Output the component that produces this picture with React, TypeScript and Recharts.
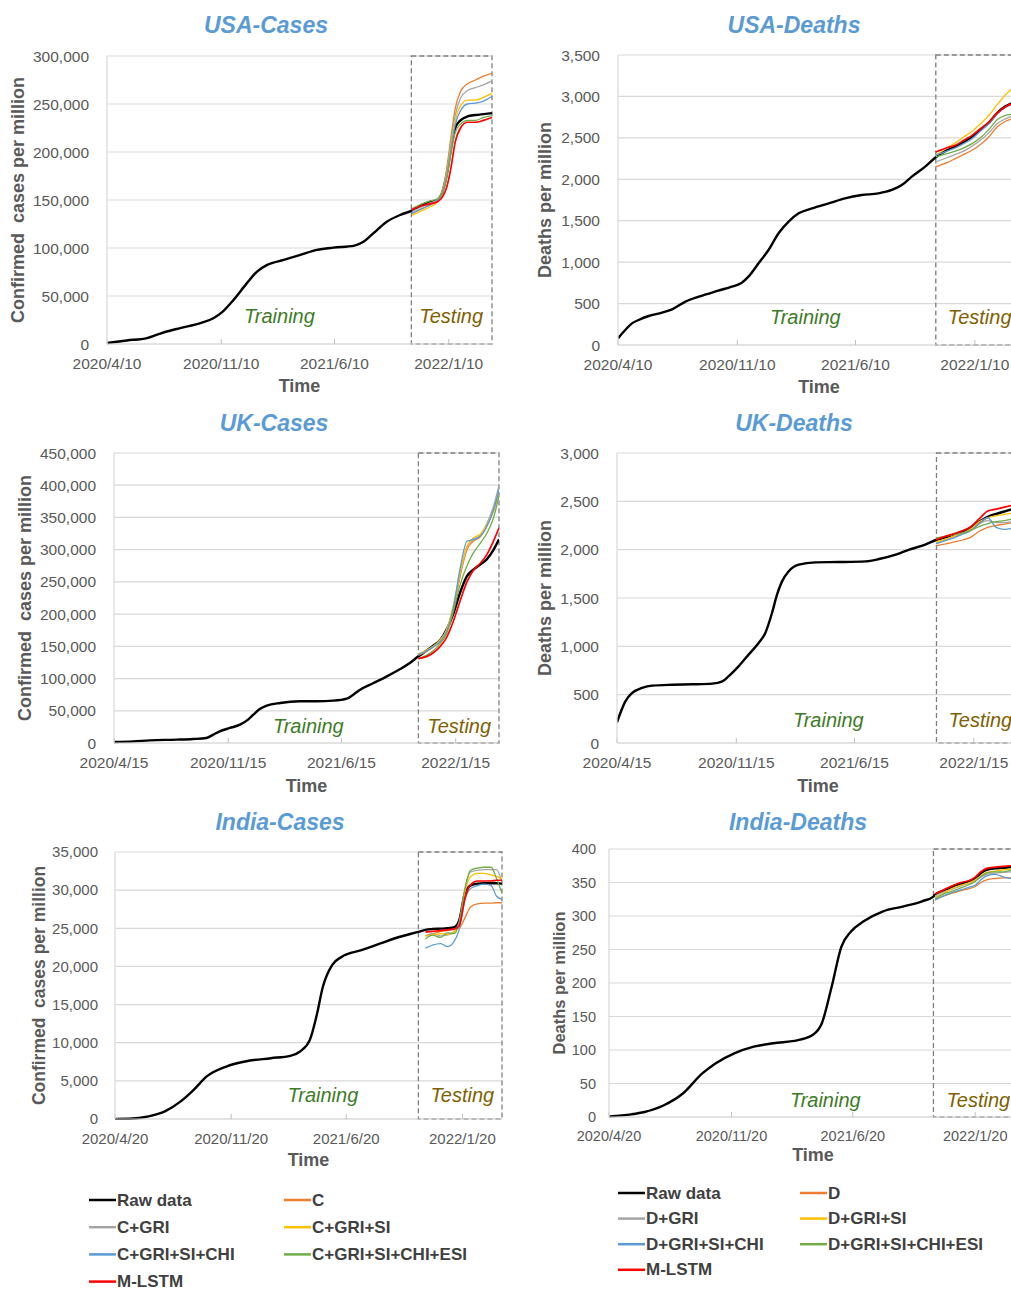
import React from "react";
import { LineChart, Line, XAxis, YAxis, CartesianGrid, ReferenceArea } from "recharts";

const FONT = '"Liberation Sans", Arial, sans-serif';
const TICK_COLOR = "#595959";
const GRID = "#d9d9d9";

// series order: Raw data, then the six models (legend order)
const COLORS = ["#000000", "#ed7d31", "#a5a5a5", "#ffc000", "#5b9bd5", "#70ad47", "#ff0000"];
const WIDTHS = [2.4, 1.3, 1.3, 1.3, 1.3, 1.3, 1.7];

const caseNames = ["Raw data", "C", "C+GRI", "C+GRI+SI", "C+GRI+SI+CHI", "C+GRI+SI+CHI+ESI", "M-LSTM"];
const deathNames = ["Raw data", "D", "D+GRI", "D+GRI+SI", "D+GRI+SI+CHI", "D+GRI+SI+CHI+ESI", "M-LSTM"];

// ---------- USA cases (days since 2020/4/10) ----------
const usaTicks = ["2020/4/10", "2020/11/10", "2021/6/10", "2022/1/10"];
const usaCasesTrainDays = [0, 37, 75, 94, 112, 137, 175, 200, 215, 237, 262, 281, 300, 331, 362, 393, 424, 462, 481, 499, 524, 549];
const usaCasesTrain = [1000, 3700, 6200, 9700, 13000, 16600, 21800, 27000, 32900, 46000, 63400, 75500, 82400, 87600, 92800, 98000, 100400, 102200, 106700, 115400, 127400, 134400];
const usaCasesTestDays = [571, 590, 605, 618, 628, 636, 644, 652, 662, 675, 690, 705, 721];
const usaCasesTestRaw = [139000, 145000, 148000, 150000, 158000, 176000, 203000, 225000, 233000, 237000, 238500, 239500, 240500];
const usaCasesModels = [
  [136000, 141000, 145000, 149000, 160000, 182000, 215000, 245000, 263000, 271000, 275000, 279000, 282000],
  [138000, 143000, 147000, 150000, 159000, 179000, 210000, 238000, 256000, 264000, 267000, 270000, 274000],
  [134000, 139000, 143000, 147000, 156000, 175000, 205000, 232000, 248000, 254000, 254000, 257000, 261000],
  [136000, 141000, 145000, 149000, 157000, 174000, 202000, 228000, 243000, 250000, 251000, 253000, 258000],
  [141000, 146000, 149000, 151000, 158000, 172000, 198000, 220000, 229000, 233000, 233000, 236000, 238000],
  [140000, 144000, 146000, 148000, 153000, 163000, 183000, 210000, 225000, 231000, 231000, 233000, 236000],
];

// ---------- USA deaths (days since 2020/4/10) ----------
const usaDeathsTrainDays = [0, 13, 25, 37, 55, 79, 97, 121, 145, 180, 204, 222, 234, 252, 270, 288, 306, 324, 348, 378, 407, 437, 467, 491, 509, 527, 551];
const usaDeathsTrain = [80, 181, 261, 302, 350, 390, 430, 523, 583, 656, 704, 752, 825, 986, 1147, 1348, 1489, 1589, 1649, 1710, 1770, 1810, 1830, 1871, 1931, 2032, 2152];
const usaDeathsTestDays = [570, 590, 605, 620, 635, 650, 665, 680, 695, 710, 721];
const usaDeathsTestRaw = [2265, 2350, 2395, 2450, 2515, 2600, 2680, 2800, 2880, 2930, 2960];
const usaDeathsModels = [
  [2150, 2200, 2250, 2300, 2350, 2420, 2510, 2630, 2700, 2740, 2770],
  [2210, 2260, 2300, 2340, 2400, 2470, 2560, 2670, 2730, 2770, 2790],
  [2290, 2380, 2440, 2510, 2580, 2670, 2770, 2900, 3020, 3110, 3150],
  [2290, 2340, 2380, 2430, 2490, 2580, 2670, 2790, 2870, 2920, 2950],
  [2270, 2310, 2340, 2380, 2430, 2500, 2600, 2720, 2770, 2790, 2810],
  [2330, 2380, 2410, 2470, 2530, 2610, 2690, 2800, 2875, 2920, 2950],
];

// ---------- UK cases (days since 2020/4/15) ----------
const ukTicks = ["2020/4/15", "2020/11/15", "2021/6/15", "2022/1/15"];
const ukCasesTrainDays = [0, 36, 67, 117, 148, 173, 186, 198, 217, 236, 251, 261, 273, 286, 311, 348, 379, 411, 436, 448, 461, 486, 511, 536, 554];
const ukCasesTrain = [1600, 2600, 4100, 5200, 6200, 7800, 12900, 18100, 23300, 28400, 36200, 44000, 52800, 57900, 62100, 64700, 64700, 65700, 68800, 75000, 82800, 93100, 103400, 114800, 124100];
const ukCasesTestDays = [570, 585, 598, 611, 623, 636, 648, 661, 673, 686, 698, 711, 721];
const ukCasesTestRaw = [134500, 143000, 151000, 160000, 176000, 202000, 233000, 259000, 269000, 277000, 285000, 300000, 316000];
const ukCasesModels = [
  [136000, 142000, 149000, 158000, 174000, 210000, 258000, 300000, 313000, 320000, 336000, 362000, 390000],
  [137000, 143000, 150000, 160000, 176000, 214000, 264000, 305000, 316000, 322000, 340000, 368000, 400000],
  [138000, 144000, 150000, 160000, 175000, 215000, 262000, 305000, 318000, 324000, 338000, 360000, 385000],
  [137000, 143000, 149000, 158000, 173000, 212000, 270000, 313000, 316000, 321000, 336000, 362000, 393000],
  [131000, 136000, 143000, 155000, 170000, 205000, 245000, 275000, 295000, 310000, 325000, 350000, 383000],
  [131000, 134000, 140000, 150000, 164000, 190000, 220000, 250000, 268000, 279000, 292000, 314000, 334000],
];

// ---------- UK deaths (days since 2020/4/15) ----------
const ukDeathsTrainDays = [0, 6, 15, 27, 45, 63, 99, 135, 171, 189, 200, 218, 236, 254, 266, 278, 287, 296, 308, 326, 356, 398, 446, 470, 500, 524, 553];
const ukDeathsTrain = [214, 310, 431, 517, 569, 593, 603, 607, 614, 638, 690, 793, 914, 1034, 1138, 1345, 1534, 1672, 1776, 1845, 1869, 1872, 1879, 1903, 1948, 2000, 2052];
const ukDeathsTestDays = [572, 590, 605, 620, 635, 650, 665, 680, 695, 710, 721];
const ukDeathsTestRaw = [2100, 2130, 2160, 2190, 2230, 2290, 2340, 2370, 2395, 2420, 2440];
const ukDeathsModels = [
  [2040, 2060, 2080, 2100, 2130, 2190, 2230, 2250, 2265, 2280, 2290],
  [2070, 2100, 2130, 2165, 2200, 2270, 2300, 2280, 2280, 2290, 2300],
  [2080, 2110, 2140, 2170, 2215, 2290, 2330, 2350, 2365, 2380, 2395],
  [2060, 2095, 2125, 2160, 2200, 2270, 2330, 2230, 2210, 2220, 2230],
  [2120, 2140, 2155, 2175, 2200, 2240, 2270, 2290, 2300, 2320, 2335],
  [2100, 2140, 2165, 2195, 2240, 2320, 2400, 2420, 2440, 2460, 2475],
];

// ---------- India cases (days since 2020/4/20) ----------
const indiaTicks = ["2020/4/20", "2020/11/20", "2021/6/20", "2022/1/20"];
const indiaCasesTrainDays = [0, 26, 62, 92, 121, 145, 169, 205, 240, 287, 323, 341, 359, 371, 383, 400, 418, 454, 489, 525, 559];
const indiaCasesTrain = [20, 40, 345, 1000, 2310, 3830, 5580, 6880, 7540, 7970, 8280, 8850, 10370, 13420, 17340, 20180, 21270, 22140, 23010, 23890, 24540];
const indiaCasesTestDays = [572, 585, 600, 612, 624, 634, 645, 655, 668, 680, 693, 703, 713];
const indiaCasesTestRaw = [24800, 24900, 24950, 25000, 25100, 26000, 29700, 30600, 30850, 30900, 30900, 30900, 30850];
const indiaCasesModels = [
  [24000, 24300, 24600, 24700, 24900, 25000, 26400, 27800, 28200, 28300, 28300, 28350, 28350],
  [24000, 24300, 24000, 24100, 24500, 25800, 30300, 32400, 32600, 32700, 32700, 32700, 31000],
  [24000, 24100, 24300, 24200, 24500, 25500, 29800, 31800, 32200, 32200, 32000, 31800, 31500],
  [22400, 22800, 23000, 22600, 23200, 24800, 28800, 30200, 30600, 30800, 30600, 29200, 28800],
  [23600, 24100, 23800, 24400, 24300, 25600, 30300, 32600, 32900, 33000, 33000, 31500, 29600],
  [24500, 24600, 24700, 24800, 24900, 25300, 29000, 30700, 31200, 31200, 31200, 31300, 31300],
];

// ---------- India deaths (days since 2020/4/20) ----------
const indiaDeathsTrainDays = [0, 39, 62, 96, 129, 163, 186, 219, 253, 287, 332, 355, 372, 389, 406, 423, 445, 479, 513, 547, 567];
const indiaDeathsTrain = [1, 4, 7.5, 17.5, 35, 65, 80, 95, 105, 110, 115, 122, 140, 194, 254, 277, 292, 307, 314, 322, 329];
const indiaDeathsTestDays = [570, 585, 600, 615, 630, 640, 650, 660, 675, 690, 702, 713];
const indiaDeathsTestRaw = [332, 338, 344, 348, 352, 356, 364, 369, 371, 372, 373, 374];
const indiaDeathsModels = [
  [324, 330, 334, 338, 341, 344, 350, 354, 356, 357, 357, 357],
  [330, 336, 340, 345, 349, 352, 358, 362, 364, 365, 366, 366],
  [328, 334, 341, 346, 350, 354, 360, 365, 367, 369, 370, 370],
  [324, 330, 335, 339, 343, 346, 354, 360, 362, 358, 356, 355],
  [326, 333, 337, 342, 347, 352, 359, 364, 366, 366, 368, 368],
  [333, 339, 345, 350, 353, 358, 366, 371, 373, 374, 375, 375],
];

const parseDate = (s: string) => {
  const [y, m, d] = s.split("/").map(Number);
  return Date.UTC(y, m - 1, d);
};
const daysFrom = (start: string, s: string) => Math.round((parseDate(s) - parseDate(start)) / 86400000);
const toPoints = (days: number[], vals: number[]) => days.map((d, i) => ({ d, v: vals[i] }));

interface PanelProps {
  title: string;
  titleX: number;
  titleY: number;
  left: number;
  top: number;
  plotW: number;
  plotH: number;
  xMax: number;
  tickDates: string[];
  tickFont: number;
  yTickGap: number;
  timeDy: number;
  yMax: number;
  yStep: number;
  yLabel: string;
  yLabelDx: number;
  yLabelSize: number;
  testStart: number;
  trainDay: number;
  labelUp: number;
  testDx: number;
  trainDays: number[];
  train: number[];
  testDays: number[];
  testRaw: number[];
  models: number[][];
}

const YW = 100;
const MT = 10;
const MR = 10;
const XH = 60;

function Panel(p: PanelProps) {
  const width = YW + p.plotW + MR;
  const height = MT + p.plotH + XH;
  const ppd = p.plotW / p.xMax;
  const xTicks = p.tickDates.map((t) => daysFrom(p.tickDates[0], t));
  const yTicks: number[] = [];
  for (let v = 0; v <= p.yMax; v += p.yStep) yTicks.push(v);
  const raw = [...toPoints(p.trainDays, p.train), ...toPoints(p.testDays, p.testRaw)];
  const labelY = MT + p.plotH - p.labelUp;
  const ylx = YW + p.yLabelDx;
  const yly = MT + p.plotH / 2;

  return (
    <>
      <div
        style={{
          position: "absolute",
          left: p.titleX,
          top: p.titleY,
          transform: "translate(-50%, -50%)",
          fontFamily: FONT,
          fontWeight: "bold",
          fontStyle: "italic",
          fontSize: 23,
          color: "#5b9bd5",
          whiteSpace: "nowrap",
        }}
      >
        {p.title}
      </div>
      <div style={{ position: "absolute", left: p.left - YW, top: p.top - MT }}>
        <LineChart width={width} height={height} margin={{ top: MT, right: MR, bottom: 0, left: 0 }}>
          <CartesianGrid horizontal vertical={false} stroke={GRID} strokeWidth={1.2} />
          <XAxis
            type="number"
            dataKey="d"
            domain={[0, p.xMax]}
            ticks={xTicks}
            interval={0}
            allowDataOverflow
            height={XH}
            tickFormatter={(d: number) => p.tickDates[xTicks.indexOf(d)] ?? ""}
            tick={{ fill: TICK_COLOR, fontSize: p.tickFont, fontFamily: FONT }}
            axisLine={{ stroke: GRID, strokeWidth: 1.2 }}
            tickLine={{ stroke: "#bfbfbf" }}
            tickSize={-5}
            tickMargin={19}
            label={{
              content: () => (
                <text
                  x={YW + p.plotW / 2}
                  y={MT + p.plotH + p.timeDy}
                  textAnchor="middle"
                  dominantBaseline="central"
                  fill={TICK_COLOR}
                  fontFamily={FONT}
                  fontWeight="bold"
                  fontSize={18}
                >
                  Time
                </text>
              ),
            }}
          />
          <YAxis
            type="number"
            domain={[0, p.yMax]}
            ticks={yTicks}
            interval={0}
            width={YW}
            tickFormatter={(v: number) => v.toLocaleString("en-US")}
            tick={{ fill: TICK_COLOR, fontSize: p.tickFont, fontFamily: FONT }}
            axisLine={{ stroke: GRID, strokeWidth: 1.2 }}
            tickLine={false}
            tickSize={0}
            tickMargin={p.yTickGap}
            label={{
              content: () => (
                <text
                  x={ylx}
                  y={yly}
                  transform={`rotate(-90 ${ylx} ${yly})`}
                  textAnchor="middle"
                  dominantBaseline="central"
                  fill={TICK_COLOR}
                  fontFamily={FONT}
                  fontWeight="bold"
                  fontSize={p.yLabelSize}
                  style={{ whiteSpace: "pre" }}
                >
                  {p.yLabel}
                </text>
              ),
            }}
          />
          <ReferenceArea
            x1={0}
            x2={p.testStart}
            y1={0}
            y2={p.yMax}
            fill="none"
            stroke="none"
            label={{
              content: () => (
                <text
                  x={YW + p.trainDay * ppd}
                  y={labelY}
                  textAnchor="middle"
                  dominantBaseline="central"
                  fill="#3e7b27"
                  fontFamily={FONT}
                  fontStyle="italic"
                  fontSize={20}
                >
                  Training
                </text>
              ),
            }}
          />
          <ReferenceArea
            x1={p.testStart}
            x2={p.xMax}
            y1={0}
            y2={p.yMax}
            fill="none"
            stroke="#7f7f7f"
            strokeWidth={1.3}
            strokeDasharray="5 3"
            label={{
              content: () => (
                <text
                  x={YW + p.testStart * ppd + p.testDx}
                  y={labelY}
                  textAnchor="start"
                  dominantBaseline="central"
                  fill="#7f6000"
                  fontFamily={FONT}
                  fontStyle="italic"
                  fontSize={20}
                >
                  Testing
                </text>
              ),
            }}
          />
          <Line
            data={raw}
            dataKey="v"
            type="monotone"
            stroke={COLORS[0]}
            strokeWidth={WIDTHS[0]}
            dot={false}
            isAnimationActive={false}
          />
          {p.models.map((vals, i) => (
            <Line
              key={i}
              data={toPoints(p.testDays, vals)}
              dataKey="v"
              type="monotone"
              stroke={COLORS[i + 1]}
              strokeWidth={WIDTHS[i + 1]}
              dot={false}
              isAnimationActive={false}
            />
          ))}
        </LineChart>
      </div>
    </>
  );
}

function LegendBlock({ names, x0, y0, colW, rowH }: { names: string[]; x0: number; y0: number; colW: number; rowH: number }) {
  return (
    <>
      {names.map((n, i) => {
        const x = x0 + (i % 2) * colW;
        const y = y0 + Math.floor(i / 2) * rowH;
        return (
          <g key={n}>
            <line x1={x} x2={x + 27} y1={y} y2={y} stroke={COLORS[i]} strokeWidth={2.5} />
            <text x={x + 28} y={y} dominantBaseline="central" fill="#404040" fontFamily={FONT} fontWeight="bold" fontSize={17}>
              {n}
            </text>
          </g>
        );
      })}
    </>
  );
}

export default function App() {
  return (
    <div
      style={{
        position: "absolute",
        left: 0,
        top: 0,
        width: 1011,
        height: 1291,
        overflow: "hidden",
        background: "#ffffff",
      }}
    >
      <Panel
        title="USA-Cases"
        titleX={266}
        titleY={25}
        left={107}
        top={56}
        plotW={385}
        plotH={288}
        xMax={721}
        tickDates={usaTicks}
        tickFont={15.5}
        yTickGap={18}
        timeDy={42}
        yMax={300000}
        yStep={50000}
        yLabel="Confirmed  cases per million"
        yLabelDx={-89}
        yLabelSize={18}
        testStart={570}
        trainDay={323}
        labelUp={28}
        testDx={8}
        trainDays={usaCasesTrainDays}
        train={usaCasesTrain}
        testDays={usaCasesTestDays}
        testRaw={usaCasesTestRaw}
        models={usaCasesModels}
      />
      <Panel
        title="USA-Deaths"
        titleX={794}
        titleY={25}
        left={618}
        top={55}
        plotW={402}
        plotH={290}
        xMax={721}
        tickDates={usaTicks}
        tickFont={15.5}
        yTickGap={18}
        timeDy={42}
        yMax={3500}
        yStep={500}
        yLabel="Deaths per million"
        yLabelDx={-73}
        yLabelSize={18}
        testStart={570}
        trainDay={336}
        labelUp={28}
        testDx={12}
        trainDays={usaDeathsTrainDays}
        train={usaDeathsTrain}
        testDays={usaDeathsTestDays}
        testRaw={usaDeathsTestRaw}
        models={usaDeathsModels}
      />
      <Panel
        title="UK-Cases"
        titleX={274}
        titleY={423}
        left={114}
        top={453}
        plotW={385}
        plotH={290}
        xMax={721}
        tickDates={ukTicks}
        tickFont={15.5}
        yTickGap={18}
        timeDy={43}
        yMax={450000}
        yStep={50000}
        yLabel="Confirmed  cases per million"
        yLabelDx={-89}
        yLabelSize={18}
        testStart={570}
        trainDay={364}
        labelUp={17}
        testDx={9}
        trainDays={ukCasesTrainDays}
        train={ukCasesTrain}
        testDays={ukCasesTestDays}
        testRaw={ukCasesTestRaw}
        models={ukCasesModels}
      />
      <Panel
        title="UK-Deaths"
        titleX={794}
        titleY={423}
        left={617}
        top={453}
        plotW={402}
        plotH={290}
        xMax={721}
        tickDates={ukTicks}
        tickFont={15.5}
        yTickGap={18}
        timeDy={43}
        yMax={3000}
        yStep={500}
        yLabel="Deaths per million"
        yLabelDx={-72}
        yLabelSize={18}
        testStart={573}
        trainDay={379}
        labelUp={23}
        testDx={12}
        trainDays={ukDeathsTrainDays}
        train={ukDeathsTrain}
        testDays={ukDeathsTestDays}
        testRaw={ukDeathsTestRaw}
        models={ukDeathsModels}
      />
      <Panel
        title="India-Cases"
        titleX={280}
        titleY={822}
        left={115}
        top={852}
        plotW={387}
        plotH={267}
        xMax={713}
        tickDates={indiaTicks}
        tickFont={15}
        yTickGap={17}
        timeDy={41}
        yMax={35000}
        yStep={5000}
        yLabel="Confirmed  cases per million"
        yLabelDx={-76}
        yLabelSize={17.5}
        testStart={559}
        trainDay={383}
        labelUp={24}
        testDx={12}
        trainDays={indiaCasesTrainDays}
        train={indiaCasesTrain}
        testDays={indiaCasesTestDays}
        testRaw={indiaCasesTestRaw}
        models={indiaCasesModels}
      />
      <Panel
        title="India-Deaths"
        titleX={798}
        titleY={822}
        left={609}
        top={849}
        plotW={408}
        plotH={268}
        xMax={713}
        tickDates={indiaTicks}
        tickFont={14.5}
        yTickGap={13}
        timeDy={38}
        yMax={400}
        yStep={50}
        yLabel="Deaths per million"
        yLabelDx={-50}
        yLabelSize={16.5}
        testStart={567}
        trainDay={378}
        labelUp={17}
        testDx={13}
        trainDays={indiaDeathsTrainDays}
        train={indiaDeathsTrain}
        testDays={indiaDeathsTestDays}
        testRaw={indiaDeathsTestRaw}
        models={indiaDeathsModels}
      />
      <svg style={{ position: "absolute", left: 0, top: 1170 }} width={1011} height={121}>
        <LegendBlock names={caseNames} x0={89} y0={30} colW={195} rowH={27.2} />
        <LegendBlock names={deathNames} x0={618} y0={23} colW={182} rowH={25.6} />
      </svg>
    </div>
  );
}
